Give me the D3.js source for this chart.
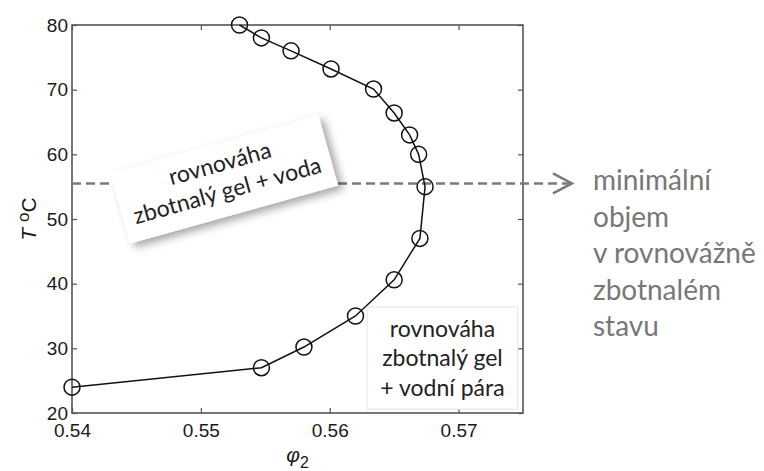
<!DOCTYPE html>
<meta charset="utf-8">
<style>
    * { margin: 0px; }
    body { background: #fff; }
    .tick text { font-family: "Liberation Sans", Arial, sans-serif; font-size: 19px; fill: #1a1a1a; }
    .note { font-family: Lato, "Open Sans", sans-serif; }
</style>
<svg width="764" height="471"></svg>
<script src="https://d3js.org/d3.v7.min.js"></script>
<script>
    // swelling curve: volume fraction phi2 vs temperature
    var phi = [0.5530, 0.5547, 0.5570, 0.5601, 0.5634, 0.5650, 0.5662, 0.5669, 0.5674, 0.5670, 0.5650, 0.5620, 0.5580, 0.5547, 0.5400];
    var temp = [80, 78, 76, 73.2, 70.1, 66.4, 63, 60, 55, 47, 40.6, 35, 30.2, 27, 24];
    var xTicks = [0.54, 0.55, 0.56, 0.57];
    var yTicks = [20, 30, 40, 50, 60, 70, 80];
    var minLevel = 55.5;   // dashed line "minimální objem"
    var arrowEnd = 0.5788;
    var sideText = ["minimální", "objem", "v rovnovážně", "zbotnalém", "stavu"];
    var box1Text = ["rovnováha", "zbotnalý gel + voda"];
    var box2Text = ["rovnováha", "zbotnalý gel", "+ vodní pára"];

    var svg = d3.select("svg");
    var margin = {left: 72, top: 25},
        width = 451, height = 388;

    var defs = svg.append("defs");
    var f = defs.append("filter").attr("id", "shadow")
        .attr("x", "-20%").attr("y", "-30%").attr("width", "150%").attr("height", "180%");
    f.append("feDropShadow").attr("dx", 4).attr("dy", 5).attr("stdDeviation", 4)
        .attr("flood-color", "#000").attr("flood-opacity", 0.35);

    var x = d3.scaleLinear().domain([0.54, 0.575]).range([0, width]);
    var y = d3.scaleLinear().domain([20, 80]).range([height, 0]);

    var g = svg.append("g").attr("transform", "translate(" + margin.left + "," + margin.top + ")");

    // axes with inward ticks, mirrored on top/right
    function styleAxis(sel) {
        sel.select(".domain").remove();
        sel.selectAll(".tick line").attr("stroke", "#555").attr("stroke-width", 1.2);
    }
    g.append("g").attr("transform", "translate(0," + height + ")")
        .call(d3.axisBottom(x).tickValues(xTicks).tickSizeInner(-5).tickSizeOuter(0).tickPadding(7).tickFormat(d3.format(".2f")))
        .call(styleAxis)
        .selectAll("text").attr("dy", "0.9em");
    g.append("g")
        .call(d3.axisTop(x).tickValues(xTicks).tickSizeInner(-5).tickSizeOuter(0).tickFormat(""))
        .call(styleAxis);
    g.append("g")
        .call(d3.axisLeft(y).tickValues(yTicks).tickSizeInner(-5).tickSizeOuter(0).tickPadding(4))
        .call(styleAxis);
    g.append("g").attr("transform", "translate(" + width + ",0)")
        .call(d3.axisRight(y).tickValues(yTicks).tickSizeInner(-5).tickSizeOuter(0).tickFormat(""))
        .call(styleAxis);
    g.append("rect").attr("width", width).attr("height", height)
        .attr("fill", "none").attr("stroke", "#555").attr("stroke-width", 1.6);

    // dashed level + arrow
    g.append("line")
        .attr("x1", x(0.54)).attr("x2", x(arrowEnd))
        .attr("y1", y(minLevel)).attr("y2", y(minLevel))
        .attr("stroke", "#7a7a7a").attr("stroke-width", 2.5).attr("stroke-dasharray", "9,5");
    g.append("path")
        .attr("d", "M" + (x(arrowEnd) - 19) + "," + (y(minLevel) - 10) + "L" + x(arrowEnd) + "," + y(minLevel) + "L" + (x(arrowEnd) - 19) + "," + (y(minLevel) + 10))
        .attr("fill", "none").attr("stroke", "#7a7a7a").attr("stroke-width", 2.5);

    // curve
    var pts = phi.map(function(d, i) { return [d, temp[i]]; });
    g.append("path").datum(pts)
        .attr("d", d3.line().x(function(d) { return x(d[0]); }).y(function(d) { return y(d[1]); }))
        .attr("fill", "none").attr("stroke", "#111").attr("stroke-width", 1.5);
    g.selectAll("circle.pt").data(pts).enter().append("circle")
        .attr("class", "pt")
        .attr("cx", function(d) { return x(d[0]); })
        .attr("cy", function(d) { return y(d[1]); })
        .attr("r", 8)
        .attr("fill", "none").attr("stroke", "#111").attr("stroke-width", 1.5);

    // tilted note
    var b1 = g.append("g")
        .attr("transform", "translate(" + x(0.5518) + "," + y(56.2) + ") rotate(-15.6)");
    b1.append("rect").attr("x", -108).attr("y", -36).attr("width", 216).attr("height", 73)
        .attr("fill", "#fff").attr("filter", "url(#shadow)");
    b1.selectAll("text").data(box1Text).enter().append("text")
        .attr("class", "note")
        .attr("text-anchor", "middle")
        .attr("y", function(d, i) { return -8 + i * 28; })
        .attr("font-size", 23).attr("fill", "#222")
        .text(function(d) { return d; });

    // lower note
    var b2x = x(0.5629), b2y = y(36.4);
    g.append("rect").attr("x", b2x).attr("y", b2y)
        .attr("width", x(0.5746) - b2x).attr("height", y(20.6) - b2y)
        .attr("fill", "#fff").attr("stroke", "#e4e4e4");
    g.selectAll("text.b2").data(box2Text).enter().append("text")
        .attr("class", "note b2")
        .attr("text-anchor", "middle")
        .attr("x", (b2x + x(0.5746)) / 2)
        .attr("y", function(d, i) { return b2y + 30 + i * 29.5; })
        .attr("font-size", 23).attr("fill", "#222")
        .text(function(d) { return d; });

    // side text
    svg.selectAll("text.side").data(sideText).enter().append("text")
        .attr("class", "note side")
        .attr("x", 593)
        .attr("y", function(d, i) { return 190 + i * 36.5; })
        .attr("font-size", 28).attr("fill", "#777")
        .text(function(d) { return d; });

    // axis titles
    var yl = svg.append("text")
        .attr("transform", "translate(36," + (margin.top + height / 2) + ") rotate(-90)")
        .attr("text-anchor", "middle")
        .attr("font-family", "Liberation Sans, Arial, sans-serif").attr("font-size", 21).attr("fill", "#1a1a1a");
    yl.append("tspan").attr("font-style", "italic").text("T ");
    yl.append("tspan").attr("dy", -7).attr("font-size", 17).text("o");
    yl.append("tspan").attr("dy", 7).text("C");

    var xl = svg.append("text")
        .attr("x", margin.left + width / 2).attr("y", 462)
        .attr("text-anchor", "middle")
        .attr("font-family", "Liberation Sans, Arial, sans-serif").attr("font-size", 21).attr("fill", "#1a1a1a");
    xl.append("tspan").attr("font-style", "italic").text("φ");
    xl.append("tspan").attr("dy", 6).attr("font-size", 16).text("2");
</script>
